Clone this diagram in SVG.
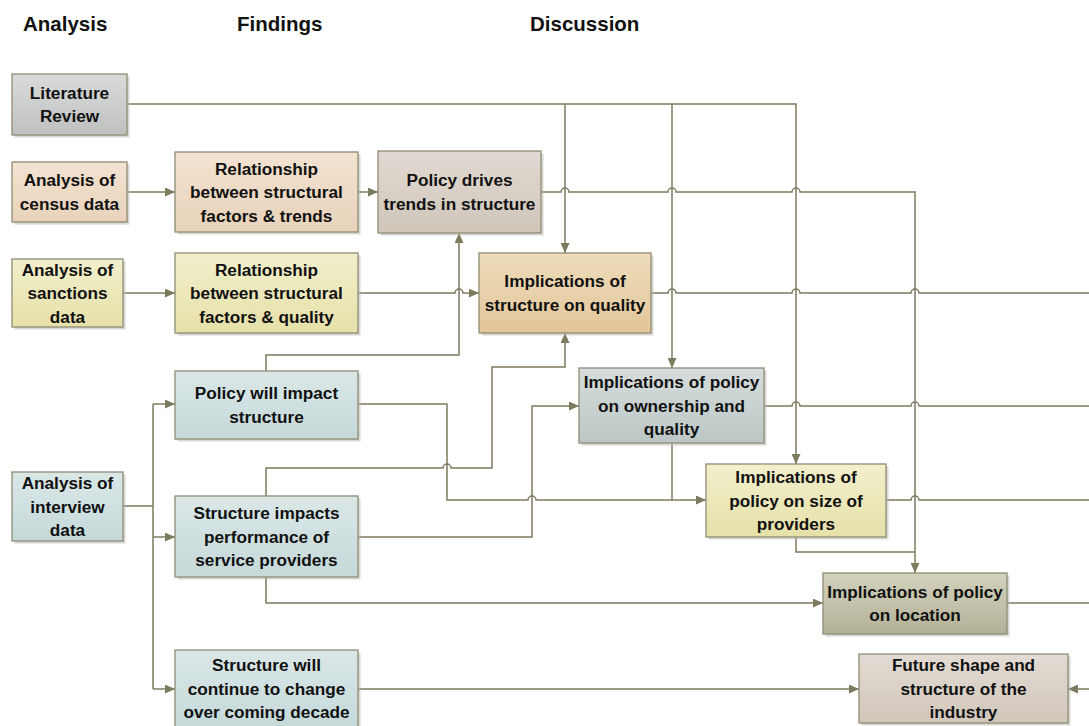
<svg xmlns="http://www.w3.org/2000/svg" width="1089" height="726" viewBox="0 0 1089 726">
<style>
.hdr{font-family:"Liberation Sans",Arial,sans-serif;font-weight:bold;font-size:20.5px;fill:#111}
.t{font-family:"Liberation Sans",Arial,sans-serif;font-weight:bold;font-size:17.2px;fill:#111;text-anchor:middle}
.box{stroke:#8f8d74;stroke-width:1.3}
.sh{fill:#b8b8b0;opacity:0.55}
.c{fill:none;stroke:#7d7b5f;stroke-width:1.5}
.a{marker-end:url(#arr)}
</style>
<defs>
<marker id="arr" markerUnits="userSpaceOnUse" markerWidth="11" markerHeight="9" refX="10" refY="4.5" orient="auto"><path d="M0,0 L10,4.5 L0,9 z" fill="#7d7b5f"/></marker>
<linearGradient id="gGray" x1="0" y1="0" x2="0" y2="1"><stop offset="0" stop-color="#dadada"/><stop offset="1" stop-color="#bfc1c1"/></linearGradient>
<linearGradient id="gPeach" x1="0" y1="0" x2="0" y2="1"><stop offset="0" stop-color="#f3e3d1"/><stop offset="1" stop-color="#e8d2ba"/></linearGradient>
<linearGradient id="gYellow" x1="0" y1="0" x2="0" y2="1"><stop offset="0" stop-color="#f2efcc"/><stop offset="1" stop-color="#e6e0a8"/></linearGradient>
<linearGradient id="gTaupe" x1="0" y1="0" x2="0" y2="1"><stop offset="0" stop-color="#e1dad2"/><stop offset="1" stop-color="#d0c6ba"/></linearGradient>
<linearGradient id="gTan" x1="0" y1="0" x2="0" y2="1"><stop offset="0" stop-color="#eedcbc"/><stop offset="1" stop-color="#e2c699"/></linearGradient>
<linearGradient id="gTeal" x1="0" y1="0" x2="0" y2="1"><stop offset="0" stop-color="#dbe7e7"/><stop offset="1" stop-color="#c5d9d9"/></linearGradient>
<linearGradient id="gBlueGray" x1="0" y1="0" x2="0" y2="1"><stop offset="0" stop-color="#d6dddc"/><stop offset="1" stop-color="#bcc7c5"/></linearGradient>
<linearGradient id="gOlive" x1="0" y1="0" x2="0" y2="1"><stop offset="0" stop-color="#d3d2bd"/><stop offset="1" stop-color="#b3b197"/></linearGradient>
<linearGradient id="gFuture" x1="0" y1="0" x2="0" y2="1"><stop offset="0" stop-color="#e3dcd4"/><stop offset="1" stop-color="#d1c6ba"/></linearGradient>
</defs>
<rect width="1089" height="726" fill="#fff"/>

<g id="headers">
<text class="hdr" x="23" y="31">Analysis</text>
<text class="hdr" x="237" y="31">Findings</text>
<text class="hdr" x="530" y="31">Discussion</text>
</g>

<g id="connectors">
<path class="c a" d="M127,192 H175"/>
<path class="c a" d="M358,192 H378"/>
<path class="c a" d="M123,293 H175"/>
<path class="c a" d="M358,293 H455 a4,4 0 0 1 8,0 H479"/>
<path class="c a" d="M127,104 H796 V464"/>
<path class="c a" d="M565,104 V253"/>
<path class="c a" d="M672,104 V368"/>
<path class="c a" d="M541,192 H561 a4,4 0 0 1 8,0 H668 a4,4 0 0 1 8,0 H792 a4,4 0 0 1 8,0 H915 V573"/>
<path class="c" d="M651,293 H668 a4,4 0 0 1 8,0 H792 a4,4 0 0 1 8,0 H911 a4,4 0 0 1 8,0 H1089"/>
<path class="c a" d="M266,371 V355 H459 V233"/>
<path class="c a" d="M358,404 H447 V500 H528 a4,4 0 0 1 8,0 H706"/>
<path class="c" d="M123,506 H153 M153,404 V689"/>
<path class="c a" d="M153,404 H175"/>
<path class="c a" d="M153,537 H175"/>
<path class="c a" d="M153,689 H175"/>
<path class="c a" d="M266,496 V468 H443 a4,4 0 0 1 8,0 H492 V367 H565 V333"/>
<path class="c a" d="M358,537 H532 V406 H579"/>
<path class="c a" d="M266,577 V603 H823"/>
<path class="c a" d="M358,689 H859"/>
<path class="c" d="M764,406 H792 a4,4 0 0 1 8,0 H911 a4,4 0 0 1 8,0 H1089"/>
<path class="c" d="M672,443 V500"/>
<path class="c" d="M886,500 H911 a4,4 0 0 1 8,0 H1089"/>
<path class="c" d="M796,537 V552 H915"/>
<path class="c" d="M1007,603 H1089"/>
<path class="c a" d="M1089,689 H1068"/>
</g>

<g id="literature-review">
<rect class="sh" x="14.5" y="76.5" width="115" height="61"/>
<rect class="box" x="12" y="74" width="115" height="61" fill="url(#gGray)"/>
<text class="t" x="69.5" y="98.75">Literature</text>
<text class="t" x="69.5" y="122.25">Review</text>
</g>

<g id="census">
<rect class="sh" x="14.5" y="164.5" width="115" height="60"/>
<rect class="box" x="12" y="162" width="115" height="60" fill="url(#gPeach)"/>
<text class="t" x="69.5" y="186.25">Analysis of</text>
<text class="t" x="69.5" y="209.75">census data</text>
</g>

<g id="rel-trends">
<rect class="sh" x="177.5" y="154.5" width="183" height="80"/>
<rect class="box" x="175" y="152" width="183" height="80" fill="url(#gPeach)"/>
<text class="t" x="266.5" y="174.5">Relationship</text>
<text class="t" x="266.5" y="198">between structural</text>
<text class="t" x="266.5" y="221.5">factors &amp; trends</text>
</g>

<g id="sanctions">
<rect class="sh" x="14.5" y="261.5" width="111" height="68"/>
<rect class="box" x="12" y="259" width="111" height="68" fill="url(#gYellow)"/>
<text class="t" x="67.5" y="275.5">Analysis of</text>
<text class="t" x="67.5" y="299">sanctions</text>
<text class="t" x="67.5" y="322.5">data</text>
</g>

<g id="rel-quality">
<rect class="sh" x="177.5" y="255.5" width="183" height="80"/>
<rect class="box" x="175" y="253" width="183" height="80" fill="url(#gYellow)"/>
<text class="t" x="266.5" y="275.5">Relationship</text>
<text class="t" x="266.5" y="299">between structural</text>
<text class="t" x="266.5" y="322.5">factors &amp; quality</text>
</g>

<g id="policy-drives">
<rect class="sh" x="380.5" y="153.5" width="163" height="82"/>
<rect class="box" x="378" y="151" width="163" height="82" fill="url(#gTaupe)"/>
<text class="t" x="459.5" y="186.25">Policy drives</text>
<text class="t" x="459.5" y="209.75">trends in structure</text>
</g>

<g id="struct-quality">
<rect class="sh" x="481.5" y="255.5" width="172" height="80"/>
<rect class="box" x="479" y="253" width="172" height="80" fill="url(#gTan)"/>
<text class="t" x="565" y="287.25">Implications of</text>
<text class="t" x="565" y="310.75">structure on quality</text>
</g>

<g id="policy-impact">
<rect class="sh" x="177.5" y="373.5" width="183" height="68"/>
<rect class="box" x="175" y="371" width="183" height="68" fill="url(#gTeal)"/>
<text class="t" x="266.5" y="399.25">Policy will impact</text>
<text class="t" x="266.5" y="422.75">structure</text>
</g>

<g id="interview">
<rect class="sh" x="14.5" y="474.5" width="111" height="69"/>
<rect class="box" x="12" y="472" width="111" height="69" fill="url(#gTeal)"/>
<text class="t" x="67.5" y="489">Analysis of</text>
<text class="t" x="67.5" y="512.5">interview</text>
<text class="t" x="67.5" y="536">data</text>
</g>

<g id="structure-impacts">
<rect class="sh" x="177.5" y="498.5" width="183" height="81"/>
<rect class="box" x="175" y="496" width="183" height="81" fill="url(#gTeal)"/>
<text class="t" x="266.5" y="519">Structure impacts</text>
<text class="t" x="266.5" y="542.5">performance of</text>
<text class="t" x="266.5" y="566">service providers</text>
</g>

<g id="structure-change">
<rect class="sh" x="177.5" y="652.5" width="183" height="78"/>
<rect class="box" x="175" y="650" width="183" height="78" fill="url(#gTeal)"/>
<text class="t" x="266.5" y="671">Structure will</text>
<text class="t" x="266.5" y="694.5">continue to change</text>
<text class="t" x="266.5" y="718">over coming decade</text>
</g>

<g id="ownership">
<rect class="sh" x="581.5" y="370.5" width="185" height="75"/>
<rect class="box" x="579" y="368" width="185" height="75" fill="url(#gBlueGray)"/>
<text class="t" x="671.5" y="388">Implications of policy</text>
<text class="t" x="671.5" y="411.5">on ownership and</text>
<text class="t" x="671.5" y="435">quality</text>
</g>

<g id="size-providers">
<rect class="sh" x="708.5" y="466.5" width="180" height="73"/>
<rect class="box" x="706" y="464" width="180" height="73" fill="url(#gYellow)"/>
<text class="t" x="796" y="483">Implications of</text>
<text class="t" x="796" y="506.5">policy on size of</text>
<text class="t" x="796" y="530">providers</text>
</g>

<g id="location">
<rect class="sh" x="825.5" y="575.5" width="184" height="61"/>
<rect class="box" x="823" y="573" width="184" height="61" fill="url(#gOlive)"/>
<text class="t" x="915" y="597.75">Implications of policy</text>
<text class="t" x="915" y="621.25">on location</text>
</g>

<g id="future">
<rect class="sh" x="861.5" y="656.5" width="209" height="69"/>
<rect class="box" x="859" y="654" width="209" height="69" fill="url(#gFuture)"/>
<text class="t" x="963.5" y="671">Future shape and</text>
<text class="t" x="963.5" y="694.5">structure of the</text>
<text class="t" x="963.5" y="718">industry</text>
</g>
</svg>
